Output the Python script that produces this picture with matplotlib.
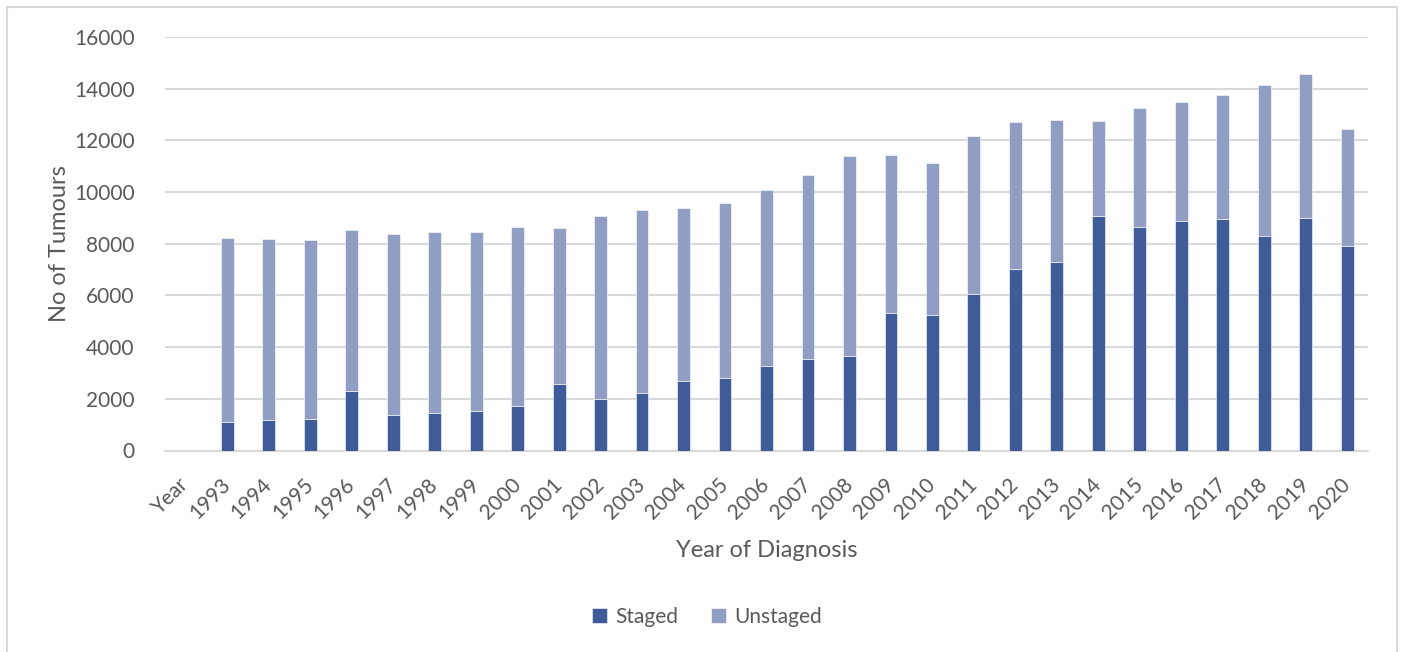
import numpy as np
import matplotlib.pyplot as plt
from matplotlib.patches import Rectangle

years = ['Year', '1993', '1994', '1995', '1996', '1997', '1998', '1999', '2000',
         '2001', '2002', '2003', '2004', '2005', '2006', '2007', '2008', '2009',
         '2010', '2011', '2012', '2013', '2014', '2015', '2016', '2017', '2018',
         '2019', '2020']

# staged counts (the "Year" header row has no data)
staged = [0, 1090, 1175, 1200, 2285, 1355, 1470, 1510, 1705, 2555, 2000,
          2222, 2674, 2817, 3282, 3553, 3669, 5336, 5258, 6072, 7034,
          7293, 9090, 8663, 8896, 8973, 8314, 9012, 7926]

# total tumours per year (staged + unstaged)
total = [0, 8220, 8170, 8130, 8530, 8375, 8450, 8450, 8645, 8620, 9065,
         9315, 9393, 9561, 10078, 10650, 11385, 11432, 11115, 12168, 12710,
         12788, 12736, 13253, 13499, 13770, 14132, 14585, 12439]

unstaged = [t - s for t, s in zip(total, staged)]

dark = '#3f5b98'
light = '#919ec3'
text_col = '#595959'

plt.rcParams['font.family'] = ['Lato', 'DejaVu Sans']

fig = plt.figure(figsize=(14.03, 6.52), dpi=100)
ax = fig.add_axes([165 / 1403, (652 - 450.5) / 652, (1368 - 165) / 1403, (450.5 - 37) / 652])

x = np.arange(len(years))
width = 0.31
ax.bar(x, staged, width, color=dark, edgecolor='white', linewidth=0.4, label='Staged', zorder=3)
ax.bar(x, unstaged, width, bottom=staged, color=light, edgecolor='white', linewidth=0.4,
       label='Unstaged', zorder=3)

ax.set_xlim(-0.5, len(years) - 0.5)
ax.set_ylim(0, 16000)
ax.set_yticks(np.arange(0, 16001, 2000))
ax.yaxis.grid(True, color='#d9d9d9', linewidth=1.5, zorder=0)
ax.set_axisbelow(True)

for s in ['top', 'right', 'left']:
    ax.spines[s].set_visible(False)
ax.spines['bottom'].set_color('#d9d9d9')
ax.spines['bottom'].set_linewidth(1.5)

ax.tick_params(axis='both', length=0, labelsize=15, colors=text_col)
ax.tick_params(axis='y', pad=22)
ax.set_xticks(x)
ax.set_xticklabels(years, rotation=45, ha='right', va='center', rotation_mode='anchor')
ax.tick_params(axis='x', pad=22)

ax.set_xlabel('Year of Diagnosis', fontsize=17, color=text_col, labelpad=13)
ax.set_ylabel('No of Tumours', fontsize=17, color=text_col, labelpad=3)

ax.legend(loc='center', bbox_to_anchor=(707 / 1403, 1 - 617 / 652), bbox_transform=fig.transFigure,
          ncol=2, frameon=False, fontsize=15, handlelength=0.7, handleheight=0.7,
          handletextpad=0.4, columnspacing=1.6, labelcolor=text_col)

# light outer frame like the spreadsheet chart area
fig.patches.append(Rectangle((7 / 1403, -0.01), (1397 - 7) / 1403, 1 - 7 / 652 + 0.01,
                             transform=fig.transFigure, fill=False, edgecolor='#d9d9d9',
                             linewidth=1.5))

fig.savefig('out.png', dpi=100)
